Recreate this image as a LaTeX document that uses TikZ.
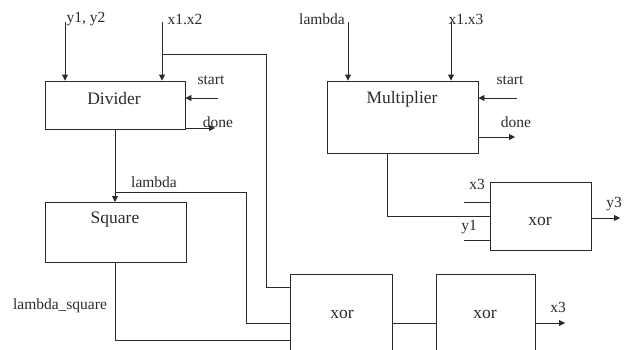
\documentclass[tikz,border=0pt]{standalone}
\usepackage{fontspec}
\setmainfont{Liberation Serif}
\usetikzlibrary{arrows.meta}
\definecolor{ink}{HTML}{2A2A2A}
\tikzset{
  box/.style={draw=ink, line width=0.9pt, inner sep=0pt},
  wire/.style={draw=ink, line width=0.9pt},
  arr/.style={wire, -{Triangle[length=6pt,width=6pt]}},
  small/.style={text=ink, inner sep=0pt, font=\fontsize{15.5}{16}\selectfont},
  big/.style={text=ink, inner sep=0pt, font=\fontsize{17.5}{19}\selectfont},
}
\begin{document}
\begin{tikzpicture}[x=1pt,y=-1pt]
\useasboundingbox (0,0) rectangle (631,349);
\clip (0,0) rectangle (631,349);
% boxes
\node[box, minimum width=140pt, minimum height=48pt] (div) at (115,105) {};
\node[box, minimum width=141pt, minimum height=60pt] (sq) at (115.5,232) {};
\node[box, minimum width=151pt, minimum height=72pt] (mul) at (402.5,117) {};
\node[box, minimum width=101pt, minimum height=68pt] (xa) at (540.5,216) {};
\node[box, minimum width=102pt, minimum height=90pt] (xb) at (341,319) {};
\node[box, minimum width=99pt, minimum height=90pt] (xc) at (485.5,319) {};
% box texts
\node[big] (tdiv) at (114,99) {Divider};
\node[big] (tsq) at (115,220) {Square};
\node[big] (tmul) at (402,99) {Multiplier};
\node[big] (txa) at (540,221) {xor};
\node[big] (txb) at (342,314) {xor};
\node[big] (txc) at (485,314) {xor};
% free ends
\coordinate (iy) at (65,22);
\coordinate (ix) at (162,22);
\coordinate (il) at (348,22);
\coordinate (ix3) at (451,22);
\coordinate (sd) at (218,98);
\coordinate (dd) at (215,128);
\coordinate (sm) at (517,98);
\coordinate (dm) at (515,137);
\coordinate (ox3) at (565,323);
\coordinate (oy3) at (620,218);
\coordinate (sx3) at (464,202);
\coordinate (sy1) at (464,240);
\coordinate (bx) at (162,54);
\coordinate (bl) at (115,192);
% connectors
\draw[arr] (iy) -- (iy |- div.north);
\draw[arr] (ix) -- (ix |- div.north);
\draw[arr] (sd) -- (sd -| div.east);
\draw[arr] (div.east |- dd) -- (dd);
\draw[arr] (il) -- (il |- mul.north);
\draw[arr] (ix3) -- (ix3 |- mul.north);
\draw[arr] (sm) -- (sm -| mul.east);
\draw[arr] (mul.east |- dm) -- (dm);
\draw[arr] (115,129) -- (115,202);
\draw[wire] (bx) -| (266,287) -- (266,287 -| xb.west);
\draw[wire] (bl) -| (246,323) -- (246,323 -| xb.west);
\draw[wire] (sq.south) |- (xb.west |- 0,340);
\draw[wire] (387,153) |- (xa.west |- 0,216);
\draw[wire] (sx3) -- (sx3 -| xa.west);
\draw[wire] (sy1) -- (sy1 -| xa.west);
\draw[arr] (xa.east |- oy3) -- (oy3);
\draw[wire] (xb.east |- 0,323) -- (xc.west |- 0,323);
\draw[arr] (xc.east |- ox3) -- (ox3);
% labels
\node[small] (ly) at (86,19) {y1, y2};
\node[small] (lx) at (185,19) {x1.x2};
\node[small] (lsd) at (211,80) {start};
\node[small] (ldd) at (218,122) {done};
\node[small] (ll) at (322,19) {lambda};
\node[small] (lx3) at (466,19) {x1.x3};
\node[small] (lsm) at (510,80) {start};
\node[small] (ldm) at (516,122) {done};
\node[small] (llm) at (154,182) {lambda};
\node[small] (lls) at (60,306) {lambda\_square};
\node[small] (lax3) at (477,184) {x3};
\node[small] (lay1) at (469,227) {y1};
\node[small] (lay3) at (614,204) {y3};
\node[small] (lbx3) at (558,307) {x3};
\end{tikzpicture}
\end{document}
